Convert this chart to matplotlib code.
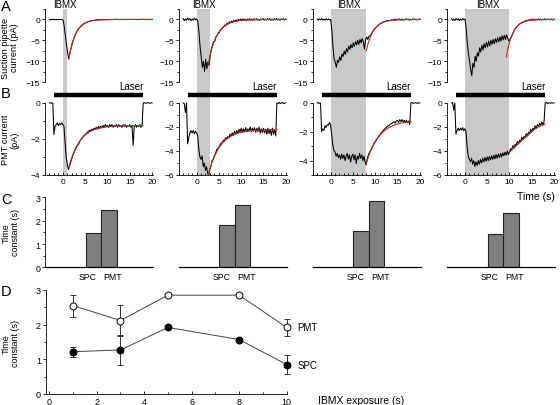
import numpy as np
import matplotlib
matplotlib.use('Agg')
import matplotlib.pyplot as plt
from matplotlib.ticker import MultipleLocator, NullLocator, FixedLocator
from matplotlib.patches import Rectangle
import matplotlib.transforms as mtransforms

plt.rcParams['font.family'] = ['Liberation Sans', 'DejaVu Sans']

# ---------------- data ----------------
ibmx_dur = [1, 3, 8, 10]          # s
laser_on = [-2, 18]               # s
t_start, t_end = -3, 20           # recording window (s), 4 samples/s

a1 = [0.0, -0.1, 0.05, -0.05, 0.05, -0.1, 0.0, -0.08, 0.05, -0.05, 0.0, -0.1,
      -0.1, -1.5, -3.6, -5.8, -7.8, -9.4, -8.2, -7.1, -5.9, -5.1, -4.3, -3.6,
      -3.0, -2.65, -2.2, -1.9, -1.55, -1.35, -1.1, -0.95, -0.85, -0.7, -0.6, -0.5,
      -0.4, -0.35, -0.25, -0.25, -0.2, -0.15, -0.1, -0.12, -0.05, -0.1, 0.0, -0.08,
      0.02, -0.08, 0.0, -0.05, 0.05, -0.06, 0.02, -0.04, 0.03, -0.07, 0.04, -0.02,
      0.05, -0.05, 0.0, -0.06, 0.04, -0.04, 0.02, -0.07, 0.03, -0.05, 0.05, -0.03,
      0.02, -0.06, 0.04, -0.04, 0.05, -0.03, 0.01, -0.06, 0.03, -0.05, 0.04, -0.02,
      0.05, -0.04, 0.02, -0.05, 0.03, -0.06, 0.04, -0.03, 0.0]
a2 = [0.2, -0.3, 0.1, -0.2, 0.3, -0.1, 0.2, -0.3, 0.1, -0.2, 0.25, -0.1,
      0.1, -0.5, -3.0, -6.5, -9.0, -11.5, -10.0, -12.5, -9.5, -11.8, -10.2, -11.0,
      -8.8, -7.0, -6.2, -5.3, -5.3, -4.2, -4.0, -3.2, -3.2, -2.5, -2.4, -1.8,
      -1.9, -1.3, -1.5, -0.9, -1.1, -0.6, -0.8, -0.4, -0.7, -0.2, -0.5, -0.1,
      -0.5, 0.0, -0.3, 0.1, -0.3, 0.15, -0.2, 0.1, -0.25, 0.1, -0.15, 0.2,
      -0.2, 0.1, -0.25, 0.15, -0.1, 0.2, -0.2, 0.05, -0.25, 0.15, -0.1, 0.2,
      -0.2, 0.1, -0.15, 0.15, -0.1, 0.2, -0.25, 0.1, -0.2, 0.15, -0.1, 0.2,
      -0.15, 0.1, -0.2, 0.15, -0.1, 0.2, -0.15, 0.1, 0.0]
a3 = [0.1, -0.2, 0.15, -0.1, 0.2, -0.15, 0.05, -0.2, 0.15, -0.1, 0.1, -0.15,
      0.0, -2.5, -6.5, -9.5, -10.2, -11.5, -9.8, -10.3, -9.0, -9.8, -8.3, -8.9,
      -7.6, -8.4, -7.0, -7.8, -6.4, -7.2, -6.0, -6.8, -5.6, -6.5, -5.3, -6.1,
      -5.0, -6.0, -4.8, -5.6, -4.6, -5.4, -7.1, -4.9, -4.2, -4.8, -4.0, -3.9,
      -3.6, -3.0, -2.7, -2.3, -2.0, -1.7, -1.4, -1.2, -1.0, -0.9, -0.7, -0.6,
      -0.5, -0.45, -0.3, -0.35, -0.2, -0.3, -0.1, -0.2, -0.15, 0.1, -0.2, 0.05,
      -0.1, 0.15, -0.15, 0.1, -0.2, 0.05, -0.1, 0.15, -0.05, 0.1, -0.2, 0.05,
      -0.1, 0.15, -0.05, 0.1, -0.15, 0.05, -0.1, 0.1, 0.0]
a4 = [0.15, -0.2, 0.1, -0.25, 0.2, -0.1, 0.15, -0.3, 0.1, -0.15, 0.2, -0.1,
      0.1, -2.0, -5.5, -8.0, -10.0, -12.0, -13.5, -10.5, -11.5, -8.8, -10.0, -8.0,
      -8.8, -6.8, -7.8, -6.2, -7.3, -5.8, -6.8, -5.5, -6.6, -5.2, -6.4, -5.0,
      -6.0, -4.8, -5.8, -4.6, -5.5, -4.4, -5.4, -4.2, -5.2, -3.9, -4.9, -3.8,
      -4.8, -3.7, -4.5, -5.2, -4.8, -4.3, -3.7, -3.1, -2.5, -2.1, -1.8, -1.5,
      -1.2, -1.0, -0.85, -0.7, -0.55, -0.4, -0.35, -0.2, -0.2, -0.1, -0.15, 0.0,
      -0.1, 0.1, -0.15, 0.05, -0.05, 0.15, -0.1, 0.1, -0.15, 0.05, -0.1, 0.15,
      -0.1, 0.1, -0.05, 0.05, -0.1, 0.1, -0.15, 0.05, 0.0]

b1 = [0.0, 0.02, -0.02, 0.0, -1.75, -1.3, -1.2, -1.1, -1.25, -1.15, -1.2, -1.1,
      -1.2, -1.3, -2.2, -3.0, -3.4, -3.7, -3.5, -3.3, -3.1, -2.9, -2.75, -2.6,
      -2.5, -2.35, -2.3, -2.15, -2.05, -1.95, -1.9, -1.8, -1.75, -1.7, -1.6, -1.6,
      -1.5, -1.55, -1.45, -1.5, -1.4, -1.45, -1.35, -1.45, -1.3, -1.4, -1.3, -1.35,
      -1.25, -1.35, -1.2, -1.3, -1.25, -1.35, -1.2, -1.3, -1.2, -1.35, -1.25, -1.3,
      -1.2, -1.35, -1.2, -1.3, -1.25, -1.35, -1.2, -1.3, -1.2, -1.35, -1.25, -1.3,
      -1.2, -1.35, -1.25, -2.35, -1.3, -1.2, -1.35, -1.25, -1.3, -1.2, -1.35, -1.25,
      0.0, 0.02, -0.02, 0.0, 0.02, 0.0, -0.02, 0.02, 0.0]
b2 = [0.0, -0.05, -0.8, 0.0, -3.4, -2.9, -2.5, -2.3, -2.5, -2.3, -2.55, -2.35,
      -2.5, -2.7, -3.8, -4.5, -4.7, -4.4, -5.3, -5.0, -5.6, -5.3, -5.9, -6.0,
      -5.5, -5.2, -4.8, -4.7, -4.4, -4.2, -3.9, -3.8, -3.7, -3.5, -3.35, -3.3,
      -3.1, -3.15, -2.9, -2.95, -2.8, -2.9, -2.6, -2.75, -2.5, -2.7, -2.35, -2.6,
      -2.3, -2.55, -2.2, -2.45, -2.1, -2.45, -2.15, -2.4, -2.05, -2.4, -2.15, -2.35,
      -2.0, -2.4, -2.1, -2.35, -2.05, -2.45, -2.1, -2.4, -2.0, -2.5, -2.15, -2.45,
      -2.1, -2.5, -2.2, -2.6, -2.1, -2.55, -2.2, -2.7, -2.1, -2.6, -2.3, -2.75,
      0.0, -0.05, 0.05, -0.05, 0.0, 0.05, -0.05, 0.0, 0.0]
b3 = [0.0, 0.03, -0.03, 0.0, -2.0, -1.8, -1.9, -1.6, -1.7, -1.5, -1.55, -1.35,
      -1.5, -2.2, -2.9, -3.3, -3.4, -3.7, -3.5, -3.8, -3.6, -3.9, -3.55, -3.85,
      -3.6, -4.0, -3.7, -3.5, -3.9, -3.6, -4.1, -3.7, -3.55, -3.95, -3.6, -4.2,
      -3.7, -3.9, -3.5, -3.85, -3.6, -4.0, -3.7, -4.1, -4.3, -3.8, -3.6, -3.4,
      -3.3, -3.1, -2.95, -2.8, -2.7, -2.55, -2.45, -2.3, -2.25, -2.1, -2.05, -1.9,
      -1.85, -1.75, -1.7, -1.6, -1.6, -1.5, -1.45, -1.4, -1.35, -1.3, -1.4, -1.25,
      -1.2, -1.35, -1.15, -1.3, -1.15, -1.3, -1.2, -1.35, -1.2, -1.35, -1.25, -1.5,
      0.0, 0.03, -0.03, 0.0, 0.03, 0.0, -0.03, 0.02, 0.0]
b4 = [0.0, 0.03, -0.6, 0.0, -2.6, -2.3, -2.1, -2.3, -2.1, -2.25, -2.05, -2.3,
      -2.15, -2.4, -3.6, -4.4, -4.7, -4.9, -4.6, -5.1, -4.8, -5.3, -4.9, -5.2,
      -4.8, -5.1, -4.7, -5.0, -4.6, -4.9, -4.55, -4.85, -4.5, -4.8, -4.45, -4.75,
      -4.4, -4.7, -4.35, -4.65, -4.3, -4.6, -4.25, -4.55, -4.2, -4.5, -4.15, -4.4,
      -4.1, -4.35, -4.0, -4.3, -4.1, -3.8, -3.9, -3.55, -3.75, -3.45, -3.55, -3.2,
      -3.4, -3.1, -3.2, -2.85, -3.05, -2.8, -2.85, -2.55, -2.75, -2.45, -2.55, -2.2,
      -2.4, -2.1, -2.2, -1.9, -2.1, -1.8, -1.95, -1.7, -1.9, -1.6, -1.85, -1.55,
      0.0, 0.05, -0.05, 0.0, 0.02, -0.03, 0.03, 0.0, 0.0]

a_fit_t = [[1.3, 1.6, 2.0, 2.5, 3.0, 3.5, 4.0, 5.0, 6.0, 7.0, 9.0, 12.0, 20.0],
           [2.5, 3.0, 3.5, 4.0, 4.5, 5.0, 6.0, 7.0, 8.0, 9.0, 10.0, 12.0, 15.0, 20.0],
           [7.9, 8.25, 8.5, 9.0, 9.5, 10.0, 10.5, 11.0, 12.0, 13.0, 14.0, 16.0, 20.0],
           [9.2, 9.5, 9.75, 10.0, 10.5, 11.0, 11.5, 12.0, 13.0, 14.0, 15.0, 17.0, 20.0]]
a_fit_v = [[-9.5, -7.78, -5.96, -4.27, -3.06, -2.19, -1.57, -0.81, -0.41, -0.21, -0.06, -0.01, 0.0],
           [-11.0, -8.46, -6.50, -5.0, -3.84, -2.95, -1.74, -1.03, -0.61, -0.36, -0.21, -0.07, -0.01, 0.0],
           [-7.5, -6.0, -5.12, -3.72, -2.71, -1.96, -1.43, -1.04, -0.55, -0.29, -0.15, -0.04, 0.0],
           [-9.0, -7.27, -6.09, -5.11, -3.58, -2.51, -1.76, -1.24, -0.61, -0.30, -0.15, -0.04, 0.0]]
b_fit_t = [[1.3, 2.0, 3.0, 4.0, 5.0, 6.0, 7.0, 8.0, 10.0, 12.0, 14.0, 18.0],
           [2.6, 3.0, 3.5, 4.0, 5.0, 6.0, 7.0, 8.0, 9.0, 10.0, 12.0, 14.0, 18.0],
           [8.0, 8.5, 9.0, 10.0, 11.0, 12.0, 13.0, 14.0, 15.0, 16.0, 17.0, 18.0],
           [10, 11, 12, 13, 14, 15, 16, 17, 18]]
b_fit_v = [[-3.6, -3.02, -2.43, -2.04, -1.78, -1.60, -1.48, -1.41, -1.32, -1.28, -1.26, -1.25],
           [-6.0, -5.47, -4.91, -4.45, -3.74, -3.26, -2.93, -2.70, -2.54, -2.44, -2.31, -2.25, -2.21],
           [-4.2, -3.72, -3.31, -2.69, -2.25, -1.94, -1.72, -1.57, -1.46, -1.38, -1.33, -1.29],
           [-4.1, -3.75, -3.4, -3.05, -2.75, -2.4, -2.1, -1.9, -1.75]]
b_ymin = [-4, -6, -5, -6]

bar_cats = ['SPC', 'PMT']
tau_spc = [1.47, 1.82, 1.56, 1.41]
tau_pmt = [2.47, 2.67, 2.86, 2.32]

exposure = [1, 3, 5, 8, 10]
pmt_mean = [2.55, 2.12, 2.85, 2.85, 1.92]
pmt_err = [0.32, 0.46, 0.0, 0.0, 0.24]
spc_mean = [1.22, 1.27, 1.92, 1.57, 0.85]
spc_err = [0.145, 0.44, 0.0, 0.0, 0.27]

a_traces = [a1, a2, a3, a4]
b_traces = [b1, b2, b3, b4]

# ---------------- layout ----------------
W, H = 560, 406
fig = plt.figure(figsize=(W / 100, H / 100), dpi=100)


def px_rect(l, t, w, h):
    return [l / W, 1 - (t + h) / H, w / W, h / H]


col_left = [45, 178.7, 312.7, 447]
col_w = 108
RED = '#c0282a'
FS_TICK = 6
SPW = 0.6


def style_ticks(ax, fs=FS_TICK):
    ax.tick_params(axis='y', which='major', direction='out', length=2.5, width=SPW,
                   labelsize=fs, pad=1)
    ax.tick_params(axis='y', which='minor', direction='out', length=1.5, width=SPW)
    ax.tick_params(axis='x', which='major', direction='in', length=2.5, width=SPW,
                   labelsize=fs, pad=2)
    ax.tick_params(axis='x', which='minor', direction='in', length=1.5, width=SPW)
    for s in ax.spines.values():
        s.set_linewidth(SPW)
    ax.spines['top'].set_visible(False)
    ax.spines['right'].set_visible(False)


for i in range(4):
    L = col_left[i]
    # ---- A ----
    axA = fig.add_axes(px_rect(L, 10, col_w, 73))
    axA.patch.set_visible(False)
    ta = np.linspace(t_start, t_end, len(a_traces[i]))
    axA.plot(ta, a_traces[i], color='black', lw=0.75, zorder=2)
    axA.plot(a_fit_t[i], a_fit_v[i], color=RED, lw=0.8, zorder=3)
    axA.set_xlim(-4, 20)
    axA.set_ylim(-15, 2.5)
    style_ticks(axA)
    axA.spines['bottom'].set_visible(False)
    axA.xaxis.set_major_locator(NullLocator())
    axA.xaxis.set_minor_locator(NullLocator())
    axA.yaxis.set_major_locator(FixedLocator([0, -5, -10, -15]))
    axA.yaxis.set_minor_locator(MultipleLocator(2.5))
    trA = mtransforms.blended_transform_factory(axA.transData, axA.transAxes)
    axA.text(ibmx_dur[i] / 2, (83 - 4.5) / 73, 'IBMX', transform=trA,
             ha='center', va='center', fontsize=7)

    # ---- B ----
    axB = fig.add_axes(px_rect(L, 104, col_w, 72))
    axB.patch.set_visible(False)
    tb = np.linspace(t_start, t_end, len(b_traces[i]))
    axB.plot(tb, b_traces[i], color='black', lw=0.75, zorder=2, clip_on=False)
    axB.plot(b_fit_t[i], b_fit_v[i], color=RED, lw=0.8, zorder=3, clip_on=False)
    axB.set_xlim(-4, 20.2)
    axB.set_ylim(b_ymin[i], 0)
    style_ticks(axB)
    axB.xaxis.set_major_locator(FixedLocator([0, 5, 10, 15, 20]))
    axB.xaxis.set_minor_locator(FixedLocator(list(range(-4, 21))))
    axB.yaxis.set_major_locator(MultipleLocator(2))
    axB.yaxis.set_minor_locator(MultipleLocator(1))
    trB = mtransforms.blended_transform_factory(axB.transData, axB.transAxes)
    axB.plot(laser_on, [1.118, 1.118], transform=trB, color='black', lw=3.2,
             solid_capstyle='butt', clip_on=False)
    axB.text(laser_on[1], 1.236, 'Laser', transform=trB, ha='right', va='center',
             fontsize=7)

    # shading across A and B
    trS = mtransforms.blended_transform_factory(axB.transData, fig.transFigure)
    rect = Rectangle((0, (H - 176) / H), ibmx_dur[i], (176 - 10) / H, transform=trS,
                     facecolor='#c9c9c9', edgecolor='none', zorder=-5)
    fig.add_artist(rect)

    # ---- C ----
    axC = fig.add_axes(px_rect(L, 198.3, col_w, 70.1))
    axC.patch.set_visible(False)
    axC.bar([0, 1], [tau_spc[i], tau_pmt[i]], width=1.0, color='#808080',
            edgecolor='#222222', linewidth=0.8)
    axC.set_xlim(-3.13, 3.84)
    axC.set_ylim(0, 3)
    style_ticks(axC, fs=6.3)
    axC.set_xticks([-0.36, 1.26])
    axC.set_xticklabels(bar_cats)
    axC.tick_params(axis='x', length=0, pad=3)
    axC.spines['bottom'].set_linewidth(0.9)
    if i == 0:
        axC.yaxis.set_major_locator(MultipleLocator(1))
        axC.yaxis.set_minor_locator(MultipleLocator(0.5))
    else:
        axC.spines['left'].set_visible(False)
        axC.yaxis.set_major_locator(NullLocator())
        axC.yaxis.set_minor_locator(NullLocator())

# ---- D ----
axD = fig.add_axes(px_rect(45.7, 291, 241, 104))
axD.patch.set_visible(False)
ex = np.array(exposure)
pm, pe = np.array(pmt_mean), np.array(pmt_err)
sm, se = np.array(spc_mean), np.array(spc_err)
kp = pe > 0
ks = se > 0
axD.errorbar(ex[kp], pm[kp], yerr=pe[kp], fmt='none', ecolor='#333333',
             elinewidth=0.7, capsize=2.2, capthick=0.7, clip_on=False, zorder=2)
axD.errorbar(ex[ks], sm[ks], yerr=se[ks], fmt='none', ecolor='#333333',
             elinewidth=0.7, capsize=2.2, capthick=0.7, clip_on=False, zorder=2)
axD.plot(ex, pm, '-', color='#444444', lw=0.7, zorder=3, clip_on=False)
axD.plot(ex, sm, '-', color='#444444', lw=0.7, zorder=3, clip_on=False)
axD.plot(ex, pm, 'o', mfc='white', mec='black', mew=0.7, ms=5, zorder=4, clip_on=False)
axD.plot(ex, sm, 'o', mfc='black', mec='black', mew=0.7, ms=5, zorder=4, clip_on=False)
axD.set_xlim(-0.15, 10.0)
axD.set_ylim(0, 3)
style_ticks(axD, fs=6.5)
axD.xaxis.set_major_locator(MultipleLocator(2))
axD.xaxis.set_minor_locator(MultipleLocator(1))
axD.yaxis.set_major_locator(MultipleLocator(1))
axD.yaxis.set_minor_locator(MultipleLocator(0.5))
axD.text(ex[-1] + 0.45, pm[-1], 'PMT', ha='left', va='center', fontsize=7)
axD.text(ex[-1] + 0.45, sm[-1], 'SPC', ha='left', va='center', fontsize=7)

# ---- labels ----
fig.text(318 / W, 1 - 401.5 / H, 'IBMX exposure (s)', ha='left', va='center', fontsize=7.5)
fig.text(536 / W, 1 - 197 / H, 'Time (s)', ha='center', va='center', fontsize=7.5)
fig.text(10 / W, 1 - 48 / H, 'Suction pipette\ncurrent (pA)', rotation=90,
         ha='center', va='center', fontsize=6.6, linespacing=1.05)
fig.text(10.5 / W, 1 - 140 / H, 'PMT current\n(pA)', rotation=90,
         ha='center', va='center', fontsize=6.6, linespacing=1.05)
fig.text(11 / W, 1 - 233 / H, 'Time\nconstant (s)', rotation=90,
         ha='center', va='center', fontsize=6.5, linespacing=1.1)
fig.text(11 / W, 1 - 344 / H, 'Time\nconstant (s)', rotation=90,
         ha='center', va='center', fontsize=6.5, linespacing=1.1)
for letter, y in zip('ABCD', [7, 93.5, 200, 292.5]):
    fig.text(1 / W, 1 - y / H, letter, ha='left', va='center', fontsize=10.5)

fig.savefig('out.png', dpi=100)
